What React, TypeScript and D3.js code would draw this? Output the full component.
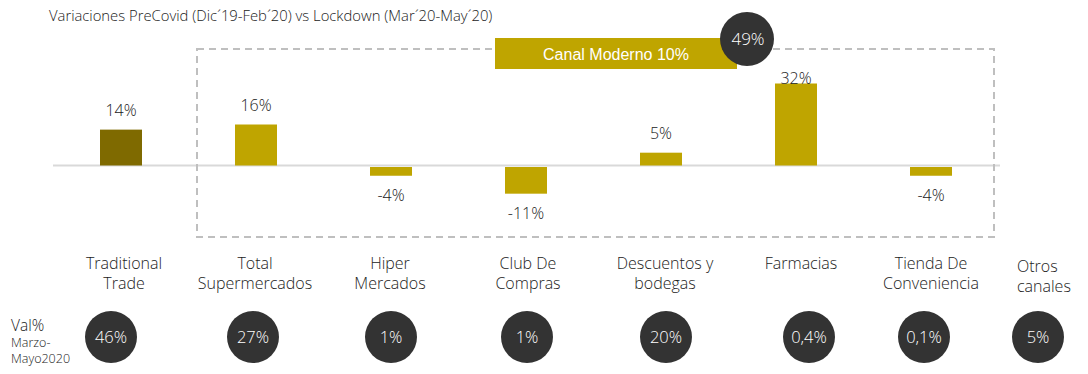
import React from "react";
import * as d3 from "d3";

const categories = [
  "Traditional Trade",
  "Total Supermercados",
  "Hiper Mercados",
  "Club De Compras",
  "Descuentos y bodegas",
  "Farmacias",
  "Tienda De Conveniencia",
  "Otros canales",
];
const labelLines = [
  ["Traditional", "Trade"],
  ["Total", "Supermercados"],
  ["Hiper", "Mercados"],
  ["Club De", "Compras"],
  ["Descuentos y", "bodegas"],
  ["Farmacias"],
  ["Tienda De", "Conveniencia"],
  ["Otros", "canales"],
];
// variation PreCovid vs Lockdown (null = no bar)
const variation = [14, 16, -4, -11, 5, 32, -4, null];
const variationLabels = ["14%", "16%", "-4%", "-11%", "5%", "32%", "-4%", ""];
// Val% Marzo-Mayo 2020
const shareLabels = ["46%", "27%", "1%", "1%", "20%", "0,4%", "0,1%", "5%"];
const modernLabel = "Canal Moderno 10%";
const modernShare = "49%";
const title = "Variaciones PreCovid (Dic´19-Feb´20) vs Lockdown (Mar´20-May´20)";

// slide layout nudges (hand placed in the original)
const labelDx = [3, -1, -1, 2, 4, 5, 0, 0];
const circleDx = [-10, -3, 0, 1, 5, 13, -7, -28];

const W = 1088, H = 374;
const FONT = "'Open Sans', Lato, sans-serif";
const GOLD = "#bfa500";
const OLIVE = "#7f6a00";
const DARK = "#333333";
const TEXT = "#222222";

export default function App() {
  const x = d3.scalePoint<string>().domain(categories).range([121, 1066]);
  const y = d3.scaleLinear().domain([0, 32]).range([165.5, 83.5]);
  const barW = 42;

  return (
    <div style={{ position: "fixed", left: 0, top: 0 }}>
      <svg width={W} height={H} style={{ display: "block", background: "#fff" }} fontFamily={FONT} fontWeight={300}>
        <text x={49} y={21} fontSize={14.8} fill={TEXT}>{title}</text>

        {/* zero line */}
        <line x1={53} x2={1000} y1={y(0)} y2={y(0)} stroke="#d9d9d9" strokeWidth={2} />

        {/* modern channel box */}
        <rect x={197} y={49} width={797} height={188} fill="none" stroke="#bfbfbf" strokeWidth={2} strokeDasharray="7,5" />
        <rect x={495} y={38} width={242} height={31} fill={GOLD} />
        <text x={616} y={60} textAnchor="middle" fontFamily="'Liberation Sans', Arial, sans-serif" fontWeight={400} fontSize={16} fill="#fff">{modernLabel}</text>
        <circle cx={747} cy={39} r={27} fill={DARK} />
        <text x={748} y={39} dy="0.35em" textAnchor="middle" fontSize={17} fill="#fff">{modernShare}</text>

        {categories.map((c, i) => {
          const v = variation[i];
          const cx = x(c) as number;
          if (v === null) return null;
          const y0 = y(0), y1 = y(v);
          const top = Math.min(y0, y1) + (v < 0 ? 1.5 : 0);
          const h = Math.abs(y1 - y0) - (v < 0 ? 1.5 : 0);
          const ly = v >= 0 ? Math.max(y1 - 14, 84) : y1 + 25;
          return (
            <g key={c}>
              <rect x={cx - barW / 2} y={top} width={barW} height={h} fill={i === 0 ? OLIVE : GOLD} />
              <text x={cx} y={ly} textAnchor="middle" fontSize={16} fill={TEXT}>{variationLabels[i]}</text>
            </g>
          );
        })}

        {/* category labels */}
        {categories.map((c, i) => {
          const last = i === categories.length - 1;
          const lx = last ? 1017 : (x(c) as number) + labelDx[i];
          return (
            <text key={c} x={lx} y={last ? 272 : 269} textAnchor={last ? "start" : "middle"} fontSize={16} fill={TEXT}>
              {labelLines[i].map((t, k) => (
                <tspan key={k} x={lx} dy={k === 0 ? 0 : 20}>{t}</tspan>
              ))}
            </text>
          );
        })}

        {/* share circles */}
        <text x={11} y={331} fontSize={15.5} fill={TEXT}>Val%</text>
        <text x={11} y={347} fontSize={12.5} fill={TEXT}>Marzo-</text>
        <text x={11} y={363} fontSize={12.5} fill={TEXT}>Mayo2020</text>
        {categories.map((c, i) => {
          const cx = (x(c) as number) + circleDx[i];
          return (
            <g key={c}>
              <circle cx={cx} cy={337} r={26} fill={DARK} />
              <text x={cx} y={337} dy="0.35em" textAnchor="middle" fontSize={16.5} fill="#fff">{shareLabels[i]}</text>
            </g>
          );
        })}
      </svg>
    </div>
  );
}
